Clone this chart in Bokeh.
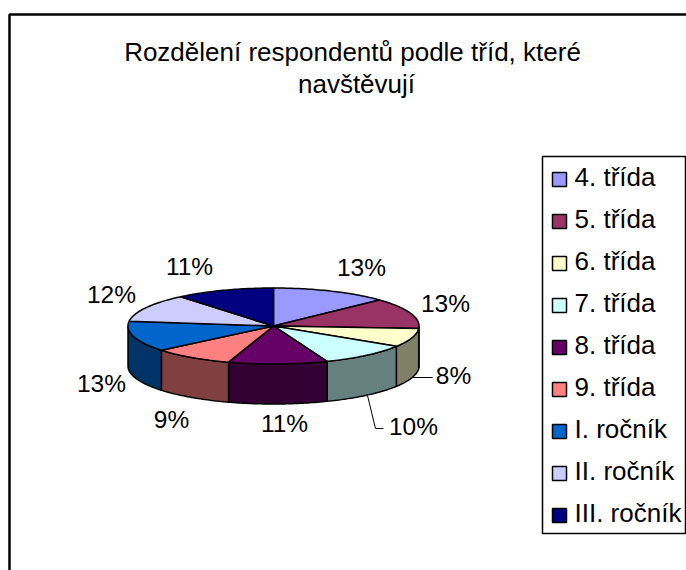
import math
from bokeh.plotting import figure
from bokeh.embed import file_html
from bokeh.resources import INLINE
from bokeh.core.properties import value

categories = ["4. třída", "5. třída", "6. třída", "7. třída", "8. třída", "9. třída", "I. ročník", "II. ročník", "III. ročník"]
values = [13, 13, 8, 10, 11, 9, 13, 12, 11]
colors = ["#9999FF", "#993366", "#FFFFCC", "#CCFFFF", "#660066", "#FF8080", "#0066CC", "#CCCCFF", "#000080"]
side_colors = ["#4D4D80", "#4D1A33", "#808066", "#668080", "#330033", "#804040", "#003366", "#666680", "#000040"]
title_lines = ["Rozdělení respondentů podle tříd, které", "navštěvují"]
title_pos = [(352, 51), (356, 83)]
label_pos = [(361, 267), (445, 303), (453, 375), (413, 426), (284, 423), (171, 419), (101, 383), (111, 294), (189, 266)]
leaders = [([412, 432], [377, 377]), ([367, 375, 383], [395, 428, 428])]

FONT = value("Liberation Sans")
CX, CY, RX, RY, DEPTH = 273, 325.5, 145.5, 38, 40
W, H = 686, 570

p = figure(width=W, height=H, x_range=(0, W), y_range=(H, 0), toolbar_location=None,
           output_backend="svg", min_border=0, outline_line_color=None, background_fill_color="white")
p.axis.visible = False
p.grid.visible = False

# chart-area frame
p.line([686, 9, 9], [14, 14, 570], line_color="black", line_width=2.5)


def pt(a, dy=0):
    return CX + RX * math.sin(math.radians(a)), CY - RY * math.cos(math.radians(a)) + dy


def arc(a0, a1):
    n = max(2, int(abs(a1 - a0)) + 1)
    return [pt(a0 + (a1 - a0) * i / (n - 1)) for i in range(n)]


total = sum(values)
angles = [0]
for v in values:
    angles.append(angles[-1] + 360 * v / total)

# visible side walls (front half of the disc)
for i in range(len(values)):
    a0, a1 = max(angles[i], 90), min(angles[i + 1], 270)
    if a1 <= a0:
        continue
    top = arc(a0, a1)
    poly = top + [(x, y + DEPTH) for x, y in reversed(top)]
    p.patch([q[0] for q in poly], [q[1] for q in poly], fill_color=side_colors[i],
            line_color="black", line_width=1.5)

# top face
for i in range(len(values)):
    poly = [(CX, CY)] + arc(angles[i], angles[i + 1])
    p.patch([q[0] for q in poly], [q[1] for q in poly], fill_color=colors[i],
            line_color="black", line_width=1.5)

# leader lines
for xs, ys in leaders:
    p.line(xs, ys, line_color="black", line_width=1)

# data labels
p.text([q[0] for q in label_pos], [q[1] for q in label_pos], text=[f"{v}%" for v in values],
       text_font=FONT, text_font_size="24.5px", text_align="center", text_baseline="middle", text_color="black")

# title
p.text([q[0] for q in title_pos], [q[1] for q in title_pos], text=title_lines,
       text_font=FONT, text_font_size="26px", text_align="center", text_baseline="middle", text_color="black")

# legend
LX0, LX1, LY0, LY1 = 542, 685, 156, 533
p.quad(left=[LX0], right=[LX1], top=[LY0], bottom=[LY1], fill_color="white", line_color="black", line_width=1.5)
ys = [177 + 42 * i for i in range(len(categories))]
p.quad(left=[552] * 9, right=[566] * 9, top=[y - 5 for y in ys], bottom=[y + 9 for y in ys],
       fill_color=colors, line_color="black", line_width=1.5)
p.text([574] * 9, [y - 1 for y in ys], text=categories, text_font=FONT, text_font_size="26px",
       text_align="left", text_baseline="middle", text_color="black")

open("out.html", "w").write(file_html(p, INLINE))
